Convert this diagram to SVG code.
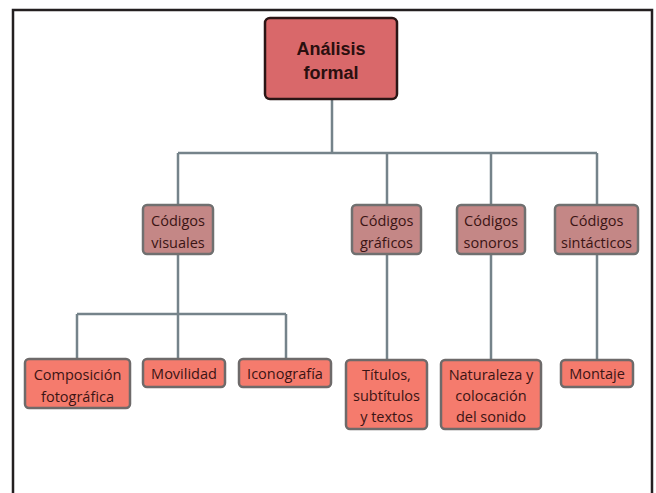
<svg xmlns="http://www.w3.org/2000/svg" width="656" height="493" viewBox="0 0 656 493">
<style>
.frame{fill:none;stroke:#231f20;stroke-width:2.5}
.ln{fill:none;stroke:#75838a;stroke-width:2.5}
.root rect{fill:#d9686a;stroke:#2b1515;stroke-width:2.5}
.l2 rect{fill:#c48786;stroke:#707070;stroke-width:2.5}
.l3 rect{fill:#f57b6d;stroke:#6e6a6a;stroke-width:2.5}
text{font-family:"Open Sans","Noto Sans",sans-serif;font-size:14.5px;fill:#3b1414;text-anchor:middle}
.root text{font-family:"Liberation Sans",Arial,sans-serif;font-weight:bold;font-size:18px;fill:#2a0f0f}
</style>
<rect width="656" height="493" fill="#ffffff"/>
<path class="frame" d="M13,493 V10 H652 V493"/>
<g id="connectors">
<path class="ln" d="M332,99 V153 M178,153 H597 M178,153 V205 M387,153 V205 M491,153 V205 M597,153 V205"/>
<path class="ln" d="M178,254 V314 M77,314 H286 M77,314 V359 M178,314 V359 M286,314 V359"/>
<path class="ln" d="M387,254 V360 M491,254 V360 M597,254 V360"/>
</g>
<g id="analisis" class="root"><rect x="265" y="18" width="132" height="81" rx="5"/><text x="331" y="55">Análisis</text><text x="331" y="79">formal</text></g>
<g id="visuales" class="l2"><rect x="143" y="205" width="70" height="49" rx="4"/><text x="178" y="226">Códigos</text><text x="178" y="248">visuales</text></g>
<g id="graficos" class="l2"><rect x="352" y="205" width="69" height="49" rx="4"/><text x="386.5" y="226">Códigos</text><text x="386.5" y="248">gráficos</text></g>
<g id="sonoros" class="l2"><rect x="457" y="205" width="68" height="49" rx="4"/><text x="491" y="226">Códigos</text><text x="491" y="248">sonoros</text></g>
<g id="sintacticos" class="l2"><rect x="555" y="205" width="83" height="49" rx="4"/><text x="596.5" y="226">Códigos</text><text x="596.5" y="248">sintácticos</text></g>
<g id="composicion" class="l3"><rect x="25" y="359" width="105" height="49" rx="4"/><text x="77.5" y="380">Composición</text><text x="77.5" y="402">fotográfica</text></g>
<g id="movilidad" class="l3"><rect x="143" y="359" width="82" height="28" rx="4"/><text x="184" y="379">Movilidad</text></g>
<g id="iconografia" class="l3"><rect x="239" y="359" width="92" height="28" rx="4"/><text x="285" y="379">Iconografía</text></g>
<g id="titulos" class="l3"><rect x="346" y="360" width="81" height="69" rx="4"/><text x="386.5" y="380">Títulos,</text><text x="386.5" y="401">subtítulos</text><text x="386.5" y="422">y textos</text></g>
<g id="naturaleza" class="l3"><rect x="441" y="360" width="100" height="69" rx="4"/><text x="491" y="380">Naturaleza y</text><text x="491" y="401">colocación</text><text x="491" y="422">del sonido</text></g>
<g id="montaje" class="l3"><rect x="561" y="360" width="72" height="27" rx="4"/><text x="597" y="379">Montaje</text></g>
</svg>
